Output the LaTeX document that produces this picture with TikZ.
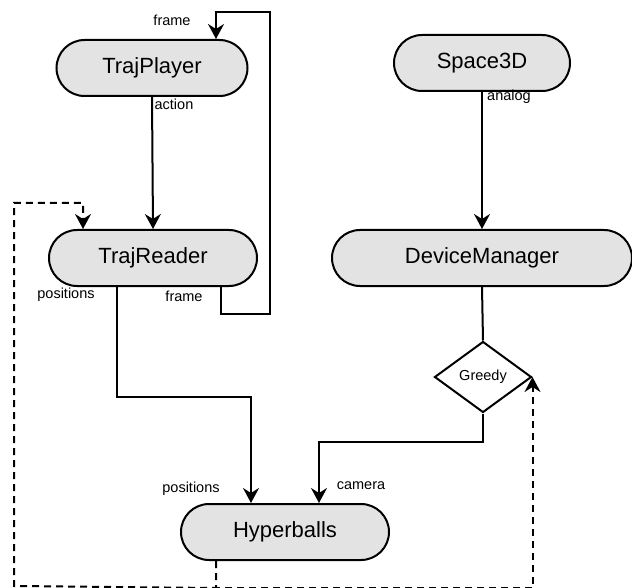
\documentclass[tikz,border=0pt]{standalone}
\usepackage{fontspec}
\setmainfont{Liberation Sans}
\usetikzlibrary{shapes.geometric,shapes.misc,arrows.meta}
\begin{document}
\begin{tikzpicture}[x=1pt,y=-1pt,
  comp/.style={draw,line width=2pt,fill=black!11,rounded rectangle,
    minimum height=56pt,inner sep=0pt,font=\fontsize{22}{24}\selectfont},
  choice/.style={draw,line width=2pt,diamond,minimum width=97pt,minimum height=71pt,
    inner sep=0pt,font=\fontsize{14.5}{16}\selectfont},
  edge/.style={line width=2pt,-{Stealth[length=15pt,width=16pt,inset=5pt]}},
  plain/.style={line width=2pt},
  dashedge/.style={line width=2pt,dash pattern=on 7pt off 5pt,
    -{Stealth[length=15pt,width=16pt,inset=5pt,sep=0pt]}},
  lbl/.style={font=\fontsize{14.5}{16}\selectfont,inner sep=0pt}]
\useasboundingbox (0,0) rectangle (632,588);
\node[comp,minimum width=191pt] (TP) at (152,68) {TrajPlayer};
\node[comp,minimum width=208pt] (TR) at (153,258) {TrajReader};
\node[comp,minimum width=176pt] (S3) at (482,63) {Space3D};
\node[comp,minimum width=300pt] (DM) at (482,258) {DeviceManager};
\node[comp,minimum width=208pt] (HB) at (285,532) {Hyperballs};
\node[choice] (GR) at (483,377) {Greedy};

\draw[edge] (TP.south) -- (TR.north);
\draw[edge] (S3.south) -- (DM.north);
\draw[plain] (DM.south) -- (GR.north);
\draw[edge] ([xshift=68pt]TR.south) -- ++(0,27) -- ++(49,0) -- (270,12) -| ([xshift=64pt]TP.north);
\draw[edge] ([xshift=-36pt]TR.south) -- ++(0,110) -| ([xshift=-34pt]HB.north);
\draw[edge] (GR.south) -- ++(0,28) -| ([xshift=34pt]HB.north);
\draw[dashedge] ([xshift=-69pt]HB.south) -- ++(0,27) -- (14,586) -- (14,203) -| ([xshift=-70pt]TR.north);
\draw[dashedge] ([xshift=-69pt]HB.south) -- ++(0,27) -| (GR.east);

\node[lbl] (l1) at (172,20) {frame};
\node[lbl] (l2) at (174,104) {action};
\node[lbl] (l3) at (66,295) {positions};
\node[lbl] (l4) at (184,296) {frame};
\node[lbl] (l5) at (509,97) {analog};
\node[lbl] (l6) at (191,489) {positions};
\node[lbl] (l7) at (361,486) {camera};
\end{tikzpicture}
\end{document}
